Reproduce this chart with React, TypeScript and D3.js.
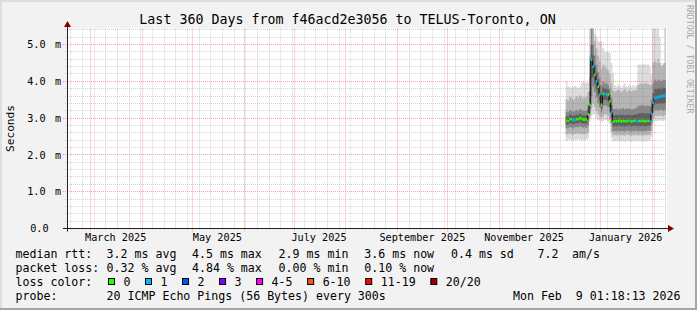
import React from 'react';
import * as d3 from 'd3';

const W = 697;
const H = 310;
const FONT = "'DejaVu Sans Mono', monospace";

const TITLE = 'Last 360 Days from f46acd2e3056 to TELUS-Toronto, ON';
const Y_AXIS_TITLE = 'Seconds';
const WATERMARK = 'RRDTOOL / TOBI OETIKER';

const GRAPH_END = new Date(2026, 1, 9, 1, 18, 13);
const RANGE_DAYS = 360;

// y axis (milliseconds)
const Y_TICK_VALUES = [0, 1, 2, 3, 4, 5];
const Y_TICK_NUMBERS = ['0.0', '1.0', '2.0', '3.0', '4.0', '5.0'];
const Y_TICK_UNITS = ['', 'm', 'm', 'm', 'm', 'm'];

// x axis labels (month, label)
const X_LABEL_MONTHS = [
  new Date(2025, 2, 1), new Date(2025, 4, 1), new Date(2025, 6, 1),
  new Date(2025, 8, 1), new Date(2025, 10, 1), new Date(2026, 0, 1),
];
const X_LABELS = ['March 2025', 'May 2025', 'July 2025', 'September 2025', 'November 2025', 'January 2026'];

// daily data, Dec 11 2025 .. Feb 8 2026 (ms)
const FIRST_DAY = new Date(2025, 11, 11);
const MEDIAN = [
  2.92, 2.92, 2.97, 2.97, 2.95, 2.95, 2.97, 2.97, 3.00, 2.98, 2.96, 2.96, 2.96,
  3.10, 3.36, 4.58, 4.40, 4.17, 4.00, 3.85, 3.65, 3.36, 3.65, 3.66, 3.64, 3.63, 3.45, 3.16,
  2.90, 2.92, 2.91, 2.92, 2.93, 2.91, 2.92, 2.92, 2.91, 2.93, 2.92, 2.91, 2.92, 2.93, 2.92, 2.91, 2.92, 2.92, 2.93, 2.91, 2.92, 2.92, 2.92,
  3.12, 3.42, 3.54, 3.56, 3.57, 3.58, 3.59, 3.60, 3.61,
];
const LOSS = [
  0, 0, 0, 0, 1, 1, 0, 0, 0, 0, 0, 0, 0,
  0, 0, 1, 1, 0, 1, 0, 1, 0, 0, 1, 1, 0, 0, 1,
  0, 0, 0, 0, 0, 0, 0, 0, 0, 0, 1, 0, 0, 0, 1, 1, 0, 0, 0, 0, 0, 0, 1,
  1, 1, 1, 1, 1, 1, 1, 1, 1,
];
const SMOKE_MIN = [
  2.38, 2.40, 2.42, 2.40, 2.38, 2.41, 2.40, 2.43, 2.40, 2.39, 2.42, 2.40, 2.41,
  2.45, 2.90, 3.05, 3.10, 3.10, 3.00, 2.95, 2.92, 2.90, 2.92, 2.95, 2.95, 2.90, 2.85, 2.45,
  2.36, 2.38, 2.37, 2.39, 2.36, 2.38, 2.37, 2.36, 2.39, 2.38, 2.37, 2.36, 2.38, 2.37, 2.39, 2.36, 2.38, 2.37, 2.36, 2.38, 2.37, 2.39, 2.38,
  2.50, 2.88, 2.92, 2.93, 2.92, 2.94, 2.93, 2.92, 2.94,
];
const SMOKE_LO2 = [
  2.55, 2.57, 2.58, 2.56, 2.54, 2.57, 2.58, 2.57, 2.58, 2.57, 2.56, 2.57, 2.56,
  2.62, 3.00, 3.25, 3.40, 3.30, 3.20, 3.12, 3.05, 3.00, 3.05, 3.10, 3.10, 3.05, 2.95, 2.62,
  2.53, 2.54, 2.52, 2.55, 2.53, 2.54, 2.53, 2.52, 2.55, 2.54, 2.53, 2.52, 2.54, 2.53, 2.55, 2.52, 2.54, 2.53, 2.52, 2.54, 2.53, 2.55, 2.54,
  2.65, 3.00, 3.05, 3.06, 3.05, 3.07, 3.06, 3.05, 3.07,
];
const SMOKE_LO1 = [
  2.72, 2.74, 2.76, 2.74, 2.72, 2.75, 2.76, 2.75, 2.78, 2.76, 2.74, 2.75, 2.74,
  2.80, 3.12, 3.60, 3.85, 3.70, 3.55, 3.40, 3.30, 3.15, 3.32, 3.35, 3.33, 3.30, 3.15, 2.85,
  2.64, 2.65, 2.63, 2.66, 2.64, 2.65, 2.64, 2.63, 2.66, 2.65, 2.64, 2.63, 2.65, 2.64, 2.66, 2.63, 2.65, 2.64, 2.63, 2.65, 2.64, 2.66, 2.65,
  2.82, 3.15, 3.20, 3.22, 3.20, 3.23, 3.22, 3.20, 3.22,
];
const SMOKE_HI1 = [
  3.18, 3.16, 3.22, 3.20, 3.18, 3.19, 3.22, 3.20, 3.25, 3.22, 3.20, 3.19, 3.21,
  3.35, 4.10, 5.44, 5.00, 4.70, 4.45, 4.25, 4.10, 3.90, 4.00, 3.95, 3.95, 3.90, 3.80, 3.55,
  3.25, 3.24, 3.27, 3.23, 3.26, 3.25, 3.28, 3.24, 3.26, 3.25, 3.27, 3.23, 3.25, 3.26, 3.28, 3.33, 3.35, 3.34, 3.36, 3.33, 3.35, 3.34, 3.32,
  3.50, 3.95, 4.05, 4.00, 4.05, 4.02, 4.00, 4.05, 4.03,
];
const SMOKE_HI2 = [
  3.52, 3.48, 3.58, 3.55, 3.50, 3.53, 3.60, 3.55, 3.62, 3.58, 3.54, 3.56, 3.58,
  3.70, 4.70, 5.44, 5.44, 5.10, 4.90, 4.70, 4.55, 4.35, 4.45, 4.40, 4.35, 4.30, 4.20, 3.95,
  3.76, 3.72, 3.75, 3.78, 3.74, 3.70, 3.76, 3.79, 3.73, 3.75, 3.77, 3.72, 3.76, 3.74, 3.77, 3.90, 3.92, 3.95, 3.92, 3.96, 3.94, 3.93, 3.90,
  3.90, 4.50, 4.55, 4.50, 4.60, 4.50, 4.40, 4.45, 4.50,
];
const SMOKE_MAX = [
  4.00, 3.85, 3.85, 3.80, 3.85, 3.88, 3.85, 3.82, 3.85, 3.95, 3.98, 3.95, 3.97,
  3.97, 5.44, 5.44, 5.44, 5.30, 5.22, 5.10, 5.08, 5.08, 4.90, 4.80, 4.80, 4.78, 4.78, 4.50,
  4.22, 3.90, 3.85, 3.92, 3.88, 3.82, 3.90, 3.95, 3.86, 3.88, 3.92, 3.85, 3.90, 3.86, 3.90, 4.45, 4.46, 4.45, 4.48, 4.46, 4.44, 4.47, 4.40,
  4.20, 5.44, 5.44, 5.44, 5.44, 5.20, 4.45, 4.50, 5.44,
];

const LOSS_COLORS = ['#26ff00', '#00b8ff', '#0059ff', '#7e00ff', '#ff00ff', '#ff5500', '#ff0000', '#a10000'];
const LOSS_LABELS = ['0', '1', '2', '3', '4-5', '6-10', '11-19', '20/20'];

const RTT_LABEL = 'median rtt:';
const RTT_STATS = ['3.2 ms avg', '4.5 ms max', '2.9 ms min', '3.6 ms now', '0.4 ms sd', '7.2', 'am/s'];
const LOSS_LABEL = 'packet loss:';
const LOSS_STATS = ['0.32 % avg', '4.84 % max', '0.00 % min', '0.10 % now'];
const LOSS_COLOR_LABEL = 'loss color:';
const PROBE_LABEL = 'probe:';
const PROBE_TEXT = '20 ICMP Echo Pings (56 Bytes) every 300s';
const STAMP = 'Mon Feb  9 01:18:13 2026';

// layout
const PLOT_X0 = 65.8;
const PLOT_W = 600;
const AXIS_X = 67.5;
const AXIS_Y = 228.5;
const PLOT_H = 200;
const PX_PER_MS = 36.8;
const STAT_COLS = [106.6, 192, 278.6, 364.3, 451, 537.6, 572];

type Day = { date: Date; med: number; loss: number; mn: number; lo2: number; lo1: number; hi1: number; hi2: number; mx: number };

const pre = { whiteSpace: 'pre' as const };

export default function App() {
  const start = d3.timeDay.offset(GRAPH_END, -RANGE_DAYS);
  const x = d3.scaleTime().domain([start, GRAPH_END]).range([PLOT_X0, PLOT_X0 + PLOT_W]);
  const yMax = PLOT_H / PX_PER_MS;
  const y = d3.scaleLinear().domain([0, yMax]).range([AXIS_Y, AXIS_Y - PLOT_H]);
  const top = AXIS_Y - PLOT_H;
  const right = 667;

  const days: Day[] = MEDIAN.map((m, i) => ({
    date: d3.timeDay.offset(FIRST_DAY, i),
    med: m, loss: LOSS[i], mn: SMOKE_MIN[i], lo2: SMOKE_LO2[i], lo1: SMOKE_LO1[i],
    hi1: SMOKE_HI1[i], hi2: SMOKE_HI2[i], mx: SMOKE_MAX[i],
  }));
  const withEnd: Day[] = [...days, { ...days[days.length - 1], date: GRAPH_END }];

  const band = (lo: (d: Day) => number, hi: (d: Day) => number) =>
    d3.area<Day>().x(d => x(d.date)).y0(d => y(lo(d))).y1(d => y(hi(d))).curve(d3.curveStepAfter)(withEnd) || '';

  const bands = [
    { path: band(d => d.mn, d => d.mx), fill: '#dcdcdc' },
    { path: band(d => d.lo2, d => d.hi2), fill: '#b5b5b5' },
    { path: band(d => d.lo1, d => d.hi1), fill: '#878787' },
    { path: band(d => (d.lo1 + d.med) / 2, d => (d.hi1 + d.med) / 2), fill: '#5f5f5f' },
  ];

  const medLine = d3.line<Day>().x(d => x(d.date)).y(d => y(d.med)).curve(d3.curveStepAfter)(withEnd) || '';

  const snap = (v: number) => Math.floor(v) + 0.5;

  const months = d3.timeMonth.range(d3.timeMonth.ceil(start), GRAPH_END);
  const weeks = d3.timeMonday.range(start, GRAPH_END).filter(d => d.getDate() !== 1);
  const minorY = d3.range(1, 28).filter(i => i % 5 !== 0).map(i => i * 0.2);

  const minorGrid = 'rgba(130,130,130,0.35)';
  const majorGrid = 'rgba(240,100,100,0.6)';

  const boxes: { x: number; label: string; color: string }[] = [];
  let bx = 108.5;
  LOSS_LABELS.forEach((l, i) => {
    boxes.push({ x: bx, label: l, color: LOSS_COLORS[i] });
    bx += 30 + 7.02 * l.length;
  });

  return (
    <svg width={W} height={H} style={{ position: 'absolute', left: 0, top: 0 }} fontFamily={FONT}>
      <defs>
        <clipPath id="plotclip">
          <rect x={AXIS_X} y={top} width={right - AXIS_X} height={PLOT_H} />
        </clipPath>
      </defs>
      <rect x={0} y={0} width={W} height={H} fill="#f2f2f2" />
      <path d={`M0,0H${W}V2H2V${H}H0Z`} fill="#dedede" />
      <path d={`M${W},${H}H0V${H - 2}H${W - 2}V0H${W}Z`} fill="#a5a5a5" />

      <rect x={AXIS_X - 0.5} y={top} width={right - AXIS_X + 0.5} height={PLOT_H} fill="#ffffff" />

      <g clipPath="url(#plotclip)">
        {bands.map((b, i) => <path key={i} d={b.path} fill={b.fill} />)}
      </g>

      <g strokeDasharray="1,1" strokeWidth={1} fill="none">
        {minorY.map((v, i) => (
          <line key={'my' + i} x1={65} x2={right} y1={snap(y(v))} y2={snap(y(v))} stroke={minorGrid} />
        ))}
        {weeks.map((d, i) => (
          <line key={'mx' + i} x1={snap(x(d))} x2={snap(x(d))} y1={top} y2={AXIS_Y + 2} stroke={minorGrid} />
        ))}
        {Y_TICK_VALUES.filter(v => v > 0).map((v, i) => (
          <line key={'My' + i} x1={63} x2={right} y1={snap(y(v))} y2={snap(y(v))} stroke={majorGrid} />
        ))}
        {months.map((d, i) => (
          <line key={'Mx' + i} x1={snap(x(d))} x2={snap(x(d))} y1={top} y2={AXIS_Y + 3} stroke={majorGrid} />
        ))}
      </g>

      <g clipPath="url(#plotclip)">
        <path d={medLine} fill="none" stroke="#111" strokeWidth={1} />
        {days.map((d, i) => (
          <line key={i} x1={x(d.date)} x2={x(withEnd[i + 1].date)} y1={y(d.med)} y2={y(d.med)}
            stroke={LOSS_COLORS[d.loss]} strokeWidth={2.6} />
        ))}
      </g>

      <line x1={63} x2={670} y1={AXIS_Y} y2={AXIS_Y} stroke="#212121" />
      <line x1={AXIS_X} x2={AXIS_X} y1={AXIS_Y + 3} y2={24} stroke="#212121" />
      <path d={`M${AXIS_X},21 L${AXIS_X + 3.5},27 L${AXIS_X - 3.5},27 Z`} fill="#7f0000" />
      <path d={`M674,${AXIS_Y} L668,${AXIS_Y - 3.5} L668,${AXIS_Y + 3.5} Z`} fill="#7f0000" />

      <g fontSize={10.2} fill="#000">
        {Y_TICK_VALUES.map((v, i) => (
          <g key={i}>
            <text x={i === 0 ? 48.6 : 45.6} y={y(v) + 3.7} textAnchor="end">{Y_TICK_NUMBERS[i]}</text>
            {Y_TICK_UNITS[i] && <text x={55} y={y(v) + 3.7}>{Y_TICK_UNITS[i]}</text>}
          </g>
        ))}
      </g>

      <g fontSize={10.2} fill="#000" textAnchor="middle">
        {X_LABEL_MONTHS.map((m, i) => (
          <text key={i} x={x(d3.timeDay.offset(m, 15))} y={240.8}>{X_LABELS[i]}</text>
        ))}
      </g>

      <text x={347.5} y={24} fontSize={13.3} textAnchor="middle" fill="#000">{TITLE}</text>

      <text transform={`translate(14,${AXIS_Y - PLOT_H / 2}) rotate(-90)`} fontSize={11.2} textAnchor="middle" fill="#000">
        {Y_AXIS_TITLE}
      </text>

      <text transform="translate(686.5,5) rotate(90)" fontSize={8.2} fill="#a9a9a9">{WATERMARK}</text>

      <g fontSize={11.6} fill="#000">
        <text x={15.5} y={257.8} xmlSpace="preserve" style={pre}>{RTT_LABEL}</text>
        {RTT_STATS.map((s, i) => <text key={'r' + i} x={STAT_COLS[i]} y={257.8} xmlSpace="preserve" style={pre}>{s}</text>)}
        <text x={15.5} y={271.8} xmlSpace="preserve" style={pre}>{LOSS_LABEL}</text>
        {LOSS_STATS.map((s, i) => <text key={'l' + i} x={STAT_COLS[i]} y={271.8} xmlSpace="preserve" style={pre}>{s}</text>)}
        <text x={15.5} y={285.8}>{LOSS_COLOR_LABEL}</text>
        {boxes.map((b, i) => (
          <g key={'b' + i}>
            <rect x={b.x} y={278.5} width={6} height={6} fill={b.color} stroke="#000" strokeWidth={1} />
            <text x={b.x + 15} y={285.8}>{b.label}</text>
          </g>
        ))}
        <text x={15.5} y={299.8}>{PROBE_LABEL}</text>
        <text x={STAT_COLS[0]} y={299.8} xmlSpace="preserve" style={pre}>{PROBE_TEXT}</text>
        <text x={680.5} y={299.8} textAnchor="end" xmlSpace="preserve" style={pre}>{STAMP}</text>
      </g>
    </svg>
  );
}
